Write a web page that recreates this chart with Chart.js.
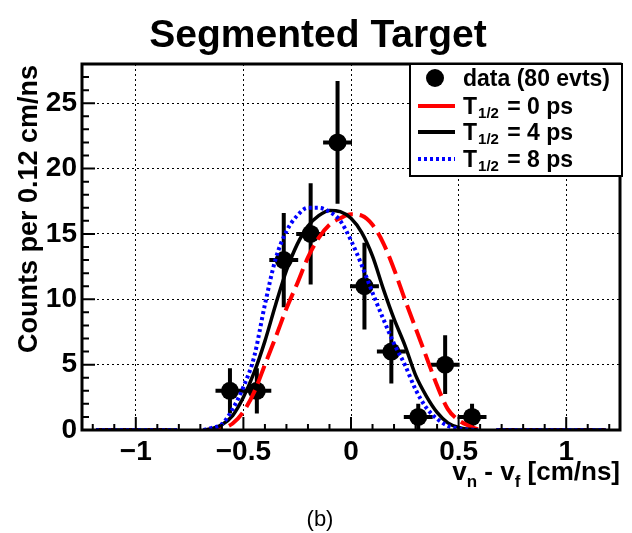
<!DOCTYPE html>
<html>
<head>
<meta charset="utf-8">
<script src="https://cdn.jsdelivr.net/npm/chart.js@4.4.0/dist/chart.umd.min.js"></script>
<style>
  html, body { margin: 0; padding: 0; background: #fff; }
  #wrap { position: relative; width: 632px; height: 533px; }
</style>
</head>
<body>
<div id="wrap"><canvas id="fitChart"></canvas></div>
<script>
// Measured spectrum: bin centres (cm/ns), counts and Poisson errors
const binCenters = [-0.5625, -0.4375, -0.3125, -0.1875, -0.0625, 0.0625, 0.1875, 0.3125, 0.4375, 0.5625];
const counts = [3, 3, 13, 15, 22, 11, 6, 1, 5, 1];
const countErrors = [1.73, 1.73, 3.61, 3.87, 4.69, 3.32, 2.45, 1.0, 2.24, 1.0];
const binHalfWidth = 0.0625;

// Fitted line shapes for each half-life, sampled along x
const curveX = [-0.685, -0.65, -0.60, -0.55, -0.50, -0.45, -0.40, -0.35, -0.30, -0.25, -0.20, -0.15, -0.10,
                -0.05, 0.00, 0.05, 0.10, 0.15, 0.20, 0.25, 0.30, 0.35, 0.40, 0.45, 0.50, 0.55, 0.59];
const fit0ps = [0, 0.03, 0.12, 0.5, 1.4, 2.9, 5.0, 7.1, 9.3, 11.2, 13.2, 14.7, 15.7,
                16.2, 16.5, 16.4, 15.7, 14.3, 12.3, 10.0, 7.8, 5.6, 3.4, 1.6, 0.75, 0.3, 0.05];
const fit4ps = [0, 0.1, 0.4, 1.1, 2.5, 4.4, 6.8, 9.6, 12.2, 14.2, 15.6, 16.4, 16.8,
                16.7, 16.2, 15.1, 13.3, 10.8, 8.5, 6.5, 4.2, 2.6, 1.35, 0.55, 0.2, 0.05, 0];
const fit8ps = [0, 0.15, 0.45, 1.6, 3.3, 5.6, 9.6, 13.1, 15.2, 16.4, 17.0, 17.0, 16.7,
                16.0, 14.5, 12.6, 10.5, 8.5, 6.6, 5.0, 3.1, 1.7, 0.85, 0.32, 0.1, 0.02, 0];
// flat zero tails drawn outside the fit window
const tailX = [-1.185, -0.808, 0.676, 1.183];
const tailY = [0, 0, 0, 0];

const xTicks = [-1, -0.5, 0, 0.5, 1];
const yTicks = [0, 5, 10, 15, 20, 25];
const halfLives = [0, 4, 8];

const FONT = '"Liberation Sans", Arial, Helvetica, sans-serif';
const fmt = v => (v < 0 ? '\u2212' : '') + Math.abs(v);

function curvePoints(ys) {
  const pts = [{ x: tailX[0], y: tailY[0] }, { x: tailX[1], y: tailY[1] }, { x: -0.75, y: null }];
  curveX.forEach((x, i) => pts.push({ x: x, y: ys[i] }));
  pts.push({ x: 0.63, y: null }, { x: tailX[2], y: tailY[2] }, { x: tailX[3], y: tailY[3] });
  return pts;
}

const rootStyle = {
  id: 'rootStyle',
  beforeDatasetsDraw(chart) {
    // error bars under the markers
    const { ctx, scales: { x, y } } = chart;
    ctx.save();
    ctx.strokeStyle = '#000';
    ctx.lineWidth = 4;
    binCenters.forEach((c, i) => {
      const px = x.getPixelForValue(c);
      const py = y.getPixelForValue(counts[i]);
      ctx.beginPath();
      ctx.moveTo(px, y.getPixelForValue(Math.max(0, counts[i] - countErrors[i])));
      ctx.lineTo(px, y.getPixelForValue(counts[i] + countErrors[i]));
      ctx.moveTo(x.getPixelForValue(c - binHalfWidth) - 1, py);
      ctx.lineTo(x.getPixelForValue(c + binHalfWidth) + 1, py);
      ctx.stroke();
    });
    ctx.restore();
  },
  afterDraw(chart) {
    const { ctx, chartArea: ca, scales: { x, y } } = chart;
    ctx.save();

    // inward ticks
    ctx.strokeStyle = '#000';
    ctx.lineWidth = 2;
    ctx.beginPath();
    for (let k = -12; k <= 12; k++) {
      const px = x.getPixelForValue(k / 10);
      const len = k % 5 === 0 ? 13 : 6;
      ctx.moveTo(px, ca.bottom);
      ctx.lineTo(px, ca.bottom - len);
    }
    for (let k = 1; k <= 27; k++) {
      const py = y.getPixelForValue(k);
      const len = k % 5 === 0 ? 13 : 7;
      ctx.moveTo(ca.left, py);
      ctx.lineTo(ca.left + len, py);
    }
    ctx.stroke();

    // frame
    ctx.lineWidth = 3;
    ctx.strokeRect(ca.left, ca.top, ca.right - ca.left, ca.bottom - ca.top);

    // legend
    const lx = 410, ly = 64, lw = 212, lh = 112;
    ctx.fillStyle = '#fff';
    ctx.fillRect(lx, ly, lw, lh);
    ctx.lineWidth = 2;
    ctx.strokeRect(lx, ly, lw, lh);

    ctx.fillStyle = '#000';
    ctx.beginPath();
    ctx.arc(435, 78, 9, 0, Math.PI * 2);
    ctx.fill();
    ctx.font = 'bold 23px ' + FONT;
    ctx.textBaseline = 'alphabetic';
    ctx.textAlign = 'left';
    ctx.fillText('data (80 evts)', 463, 86);

    const rows = [106, 132, 159];
    const colors = ['#ff0000', '#000000', '#0000ff'];
    const dashes = [[], [], [3, 3]];
    halfLives.forEach((h, i) => {
      const cy = rows[i];
      ctx.strokeStyle = colors[i];
      ctx.lineWidth = 4;
      ctx.setLineDash(dashes[i]);
      ctx.beginPath();
      ctx.moveTo(418, cy);
      ctx.lineTo(455, cy);
      ctx.stroke();
      ctx.setLineDash([]);
      ctx.fillStyle = '#000';
      ctx.font = 'bold 23px ' + FONT;
      ctx.fillText('T', 463, cy + 8);
      const tw = ctx.measureText('T').width;
      ctx.font = 'bold 15px ' + FONT;
      ctx.fillText('1/2', 463 + tw + 1, cy + 12);
      const sw = ctx.measureText('1/2').width;
      ctx.font = 'bold 23px ' + FONT;
      ctx.fillText(' = ' + h + ' ps', 463 + tw + sw + 3, cy + 8);
    });

    // title
    ctx.fillStyle = '#000';
    ctx.textAlign = 'center';
    ctx.font = 'bold 39px ' + FONT;
    ctx.fillText('Segmented Target', 318, 47);

    // y axis title
    ctx.save();
    ctx.translate(37, 209);
    ctx.rotate(-Math.PI / 2);
    ctx.font = 'bold 27px ' + FONT;
    ctx.fillText('Counts per 0.12 cm/ns', 0, 0);
    ctx.restore();

    // x axis title with subscripts, right aligned to the frame
    const parts = [['v', 26, 0], ['n', 17, 7], [' - v', 26, 0], ['f', 17, 7], [' [cm/ns]', 26, 0]];
    let total = 0;
    parts.forEach(p => { ctx.font = 'bold ' + p[1] + 'px ' + FONT; total += ctx.measureText(p[0]).width; });
    let tx = ca.right - total;
    ctx.textAlign = 'left';
    parts.forEach(p => {
      ctx.font = 'bold ' + p[1] + 'px ' + FONT;
      ctx.fillText(p[0], tx, 480 + p[2]);
      tx += ctx.measureText(p[0]).width;
    });

    // panel caption
    ctx.textAlign = 'center';
    ctx.font = '22px ' + FONT;
    ctx.fillText('(b)', 320, 526);
    ctx.restore();
  }
};

new Chart(document.getElementById('fitChart'), {
  type: 'scatter',
  data: {
    datasets: [
      {
        label: 'T1/2 = 8 ps',
        data: curvePoints(fit8ps),
        showLine: true,
        borderColor: '#0000ff',
        borderWidth: 4,
        borderDash: [3, 3],
        pointRadius: 0,
        cubicInterpolationMode: 'monotone',
        spanGaps: false,
        order: 0
      },
      {
        label: 'T1/2 = 4 ps',
        data: curvePoints(fit4ps),
        showLine: true,
        borderColor: '#000000',
        borderWidth: 3.5,
        pointRadius: 0,
        cubicInterpolationMode: 'monotone',
        spanGaps: false,
        order: 1
      },
      {
        label: 'T1/2 = 0 ps',
        data: curvePoints(fit0ps),
        showLine: true,
        borderColor: '#ff0000',
        borderWidth: 4,
        borderDash: [19, 7],
        pointRadius: 0,
        cubicInterpolationMode: 'monotone',
        spanGaps: false,
        order: 2
      },
      {
        label: 'data (80 evts)',
        data: binCenters.map((c, i) => ({ x: c, y: counts[i] })),
        pointRadius: 9,
        pointBackgroundColor: '#000',
        pointBorderWidth: 0,
        order: 3
      }
    ]
  },
  options: {
    responsive: true,
    maintainAspectRatio: false,
    animation: false,
    layout: { padding: { top: 64, right: 12, left: 0, bottom: 0 } },
    plugins: { legend: { display: false }, tooltip: { enabled: false } },
    scales: {
      x: {
        type: 'linear',
        min: -1.25,
        max: 1.25,
        afterBuildTicks: s => { s.ticks = xTicks.map(v => ({ value: v })); },
        afterFit: s => { s.height = 103; },
        grid: { color: '#000', lineWidth: 1, drawTicks: false },
        border: { display: false, dash: [2, 3] },
        ticks: {
          color: '#000',
          padding: 5,
          maxRotation: 0,
          font: { family: FONT, size: 28, weight: 'bold' },
          callback: v => fmt(v)
        }
      },
      y: {
        type: 'linear',
        min: 0,
        max: 28,
        afterBuildTicks: s => { s.ticks = yTicks.map(v => ({ value: v })); },
        afterFit: s => { s.width = 82; },
        grid: { color: '#000', lineWidth: 1, drawTicks: false },
        border: { display: false, dash: [2, 3] },
        ticks: {
          color: '#000',
          padding: 5,
          font: { family: FONT, size: 28, weight: 'bold' },
          callback: v => fmt(v)
        }
      }
    }
  },
  plugins: [rootStyle]
});
</script>
</body>
</html>
